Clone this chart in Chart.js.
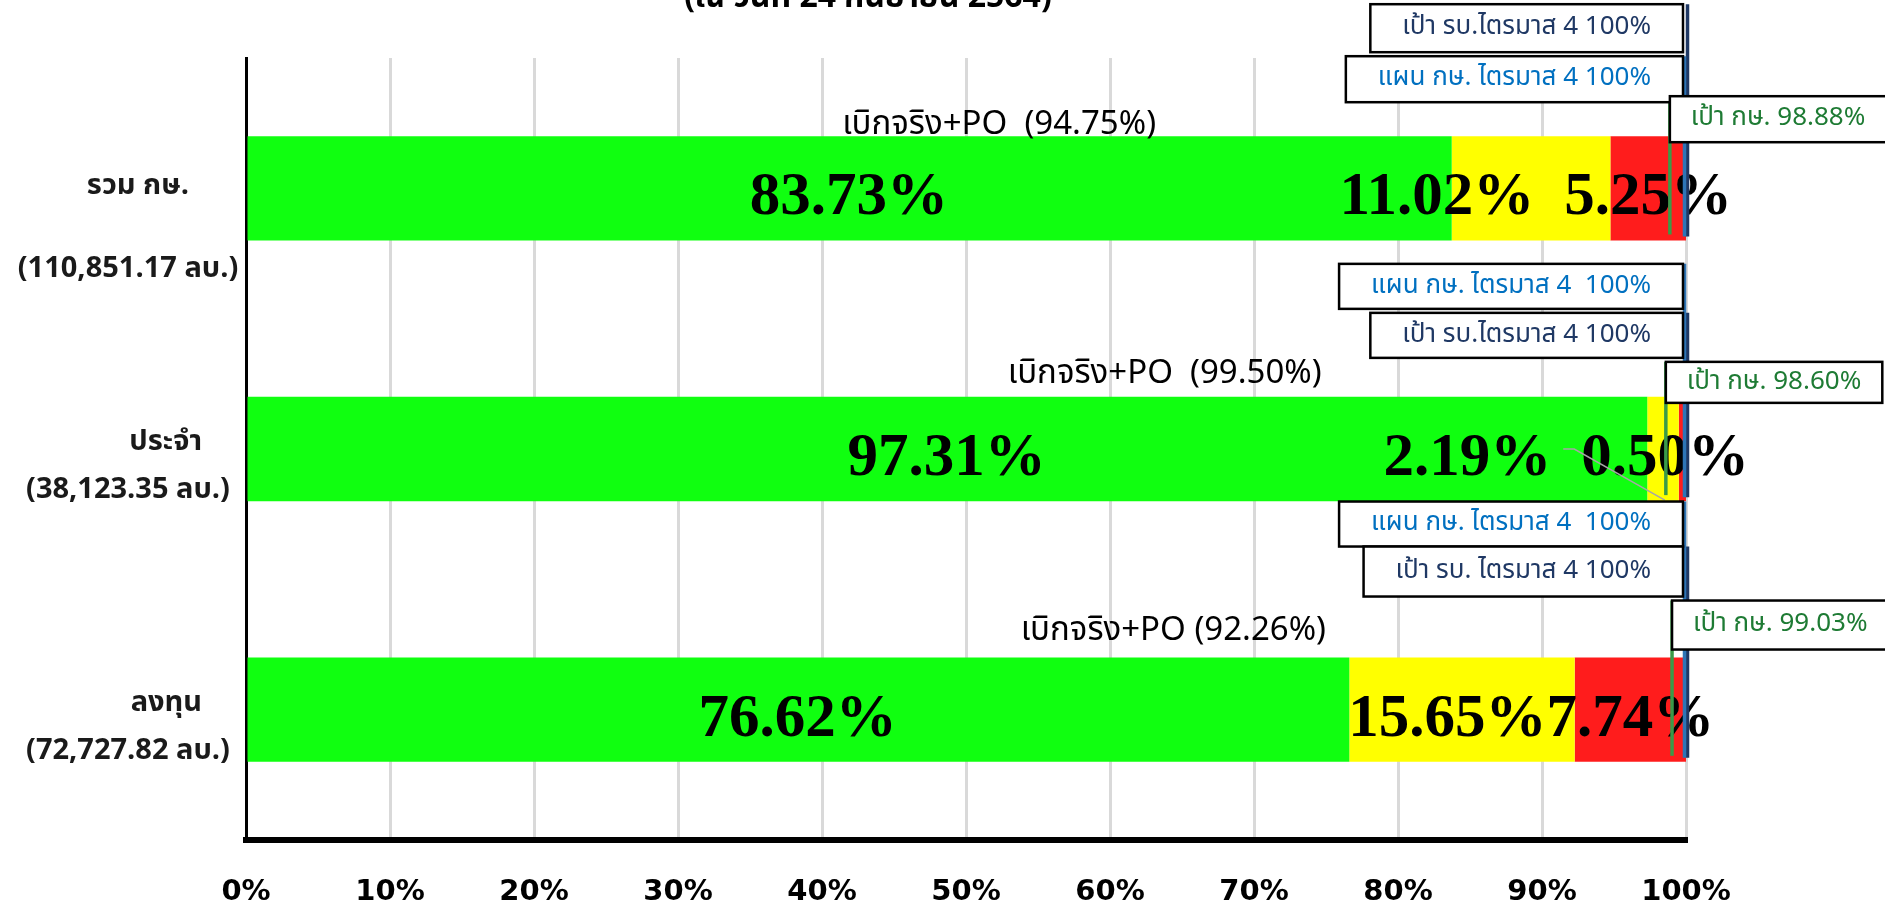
<!DOCTYPE html>
<html>
<head>
<meta charset="utf-8">
<script src="https://cdn.jsdelivr.net/npm/chart.js@4"></script>
<style>
  html, body { margin: 0; padding: 0; background: #fff; }
  #wrap { width: 1885px; height: 910px; }
</style>
</head>
<body>
<div id="wrap"><canvas id="myChart" width="1885" height="910"></canvas></div>
<script>
const categories = ["รวม กษ.", "ประจำ", "ลงทุน"];
const budgets = ["(110,851.17 ลบ.)", "(38,123.35 ลบ.)", "(72,727.82 ลบ.)"];
const paid = [83.73, 97.31, 76.62];
const po = [11.02, 2.19, 15.65];
const remain = [5.25, 0.5, 7.74];
const paidPlusPo = [94.75, 99.5, 92.26];
const targetKS = [98.88, 98.6, 99.03];
const targetRB = [100, 100, 100];
const planKS = [100, 100, 100];
const rbText = ["เป้า รบ.ไตรมาส 4", "เป้า รบ.ไตรมาส 4", "เป้า รบ. ไตรมาส 4"];
const planText = ["แผน กษ. ไตรมาส 4", "แผน กษ. ไตรมาส 4 ", "แผน กษ. ไตรมาส 4 "];
const xTickValues = [0, 10, 20, 30, 40, 50, 60, 70, 80, 90, 100];
const titleText = "(ณ วันที่ 24 กันยายน 2564)";

const thaiFont = "Tahoma, 'Noto Sans Thai', 'Noto Sans Thai UI', 'Noto Sans', 'DejaVu Sans', sans-serif";
const ctx = document.getElementById("myChart").getContext("2d");

const NAVY = "#1F3864";
const BLUE = "#0070C0";
const GREEN_TXT = "#1E7B34";

// box layout, offsets from the bar top (px)
const boxLayout = [
  { rb: [-132, -84], plan: [-80, -34], ks: [-40, 6] },
  { rb: [-84, -39], plan: [-133, -88], ks: [-35, 6] },
  { rb: [-111, -61], plan: [-156, -111], ks: [-57, -8] },
];
const poAnchor = [52.3, 63.8, 64.4];
const poOffset = [-9, -21, -24];
const catOffsets = [[0, 83], [-5, 43], [-5, 43]];
const catRight = [-57, -44, -44];
const labelGap = [30, 30, 0];

function drawBox(c, text, color, left, right, top, bottom) {
  c.fillStyle = "#fff";
  c.fillRect(left, top, right - left, bottom - top);
  c.strokeStyle = "#000";
  c.lineWidth = 2.5;
  c.strokeRect(left, top, right - left, bottom - top);
  c.fillStyle = color;
  c.textAlign = "center";
  c.textBaseline = "middle";
  c.fillText(text, (left + right) / 2, (top + bottom) / 2 + 1);
}

const overlayPlugin = {
  id: "overlay",
  afterDatasetsDraw(chart) {
    const c = chart.ctx;
    const xs = chart.scales.x;
    const meta = chart.getDatasetMeta(0);
    c.save();

    // title (cut by the top edge)
    c.font = "bold 32px " + thaiFont;
    c.fillStyle = "#000";
    c.textAlign = "center";
    c.textBaseline = "alphabetic";
    c.fillText(titleText, 868, 7);

    categories.forEach((cat, i) => {
      const bar = meta.data[i];
      const top = bar.y - bar.height / 2;
      const bottom = bar.y + bar.height / 2;
      const mid = bar.y;

      // category labels
      c.fillStyle = "#1a1a1a";
      c.font = "bold 29px " + thaiFont;
      c.textBaseline = "middle";
      c.textAlign = "right";
      c.fillText(cat, chart.chartArea.left + catRight[i], mid + catOffsets[i][0]);
      c.textAlign = "center";
      c.fillText(budgets[i], chart.chartArea.left - 118, mid + catOffsets[i][1]);

      // value labels, pushed left when they collide
      c.font = "bold 61px 'Liberation Serif', 'Times New Roman', serif";
      c.textBaseline = "alphabetic";
      c.textAlign = "center";
      const segs = [paid[i], po[i], remain[i]];
      const pos = [];
      let start = 0;
      segs.forEach((v) => {
        const cx = xs.getPixelForValue(start + v / 2);
        pos.push({ v, cx, w: c.measureText(v.toFixed(2) + "%").width, start });
        start += v;
      });
      const last = pos[pos.length - 1];
      const maxRight = xs.getPixelForValue(100) + 63;
      if (last.cx + last.w / 2 > maxRight) last.cx = maxRight - last.w / 2;
      for (let k = pos.length - 2; k >= 0; k--) {
        const nextLeft = pos[k + 1].cx - pos[k + 1].w / 2;
        if (pos[k].cx + pos[k].w / 2 > nextLeft - labelGap[i]) {
          pos[k].cx = nextLeft - labelGap[i] - pos[k].w / 2;
        }
      }
      pos.forEach((p) => {
        c.fillStyle = "#000";
        c.fillText(p.v.toFixed(2) + "%", p.cx, mid + 26);
        if (p.v < 1) {
          // leader line for the tiny segment
          const lx = p.cx - p.w / 2;
          c.strokeStyle = "#A6A6A6";
          c.lineWidth = 1.5;
          c.beginPath();
          c.moveTo(lx - 18, mid);
          c.lineTo(lx - 7, mid);
          c.lineTo(xs.getPixelForValue(p.start) - 14, bottom - 1);
          c.stroke();
        }
      });

      // vertical target lines
      const L = boxLayout[i];
      c.lineWidth = 3.5;
      c.strokeStyle = NAVY;
      c.beginPath();
      c.moveTo(xs.getPixelForValue(targetRB[i]) + 1.5, top + L.rb[0]);
      c.lineTo(xs.getPixelForValue(targetRB[i]) + 1.5, bottom - 4);
      c.stroke();
      c.strokeStyle = "#2E75B6";
      c.beginPath();
      c.moveTo(xs.getPixelForValue(planKS[i]) - 1.5, top + L.plan[0]);
      c.lineTo(xs.getPixelForValue(planKS[i]) - 1.5, bottom - 4);
      c.stroke();
      c.strokeStyle = "#3A9A48";
      c.beginPath();
      c.moveTo(xs.getPixelForValue(targetKS[i]), top + L.ks[0]);
      c.lineTo(xs.getPixelForValue(targetKS[i]), bottom - 6);
      c.stroke();

      // "เบิกจริง+PO" labels
      c.font = "33px " + thaiFont;
      c.fillStyle = "#000";
      c.textAlign = "center";
      c.textBaseline = "middle";
      const sep = i < 2 ? "  " : " ";
      c.fillText("เบิกจริง+PO" + sep + "(" + paidPlusPo[i].toFixed(2) + "%)",
        xs.getPixelForValue(poAnchor[i]), top + poOffset[i]);

      // boxes
      c.font = "26px " + thaiFont;
      const rbStr = rbText[i] + " " + targetRB[i] + "%";
      const planStr = planText[i] + " " + planKS[i] + "%";
      const ksStr = "เป้า กษ. " + targetKS[i].toFixed(2) + "%";
      const right = xs.getPixelForValue(100) - 3;
      const wRb = c.measureText(rbStr).width + 64;
      const wPlan = c.measureText(planStr).width + 64;
      const wKs = c.measureText(ksStr).width + 42;
      const boxes = [
        [rbStr, NAVY, right - wRb, right, top + L.rb[0], top + L.rb[1]],
        [planStr, BLUE, right - wPlan, right, top + L.plan[0], top + L.plan[1]],
      ];
      // draw the upper box first
      boxes.sort((a, b) => a[4] - b[4]);
      boxes.forEach((b) => drawBox(c, ...b));
      const kx = xs.getPixelForValue(targetKS[i]);
      drawBox(c, ksStr, GREEN_TXT, kx, kx + wKs, top + L.ks[0], top + L.ks[1]);
    });
    c.restore();
  },
};

new Chart(ctx, {
  type: "bar",
  data: {
    labels: categories,
    datasets: [
      { label: "เบิกจ่าย", data: paid, backgroundColor: "#10FF10" },
      { label: "PO", data: po, backgroundColor: "#FFFF00" },
      { label: "คงเหลือ", data: remain, backgroundColor: "#FF1C1C" },
    ],
  },
  options: {
    indexAxis: "y",
    responsive: false,
    animation: false,
    barPercentage: 0.4,
    categoryPercentage: 1,
    layout: { padding: { left: 246, right: 199, top: 58, bottom: 0 } },
    plugins: { legend: { display: false }, tooltip: { enabled: false } },
    scales: {
      x: {
        stacked: true,
        min: 0,
        max: 100,
        afterBuildTicks: (axis) => {
          axis.ticks = xTickValues.map((v) => ({ value: v }));
        },
        afterFit: (axis) => {
          axis.height = 70;
        },
        ticks: {
          callback: (v) => v + "%",
          color: "#000",
          font: { family: "'DejaVu Sans', sans-serif", weight: "bold", size: 29 },
          padding: 35,
        },
        grid: { color: "#D9D9D9", lineWidth: 3, drawTicks: false },
        border: { display: true, color: "#000", width: 6 },
      },
      y: {
        stacked: true,
        ticks: { display: false },
        grid: { display: false, drawTicks: false },
        border: { display: true, color: "#000", width: 3 },
      },
    },
  },
  plugins: [overlayPlugin],
});
</script>
</body>
</html>
